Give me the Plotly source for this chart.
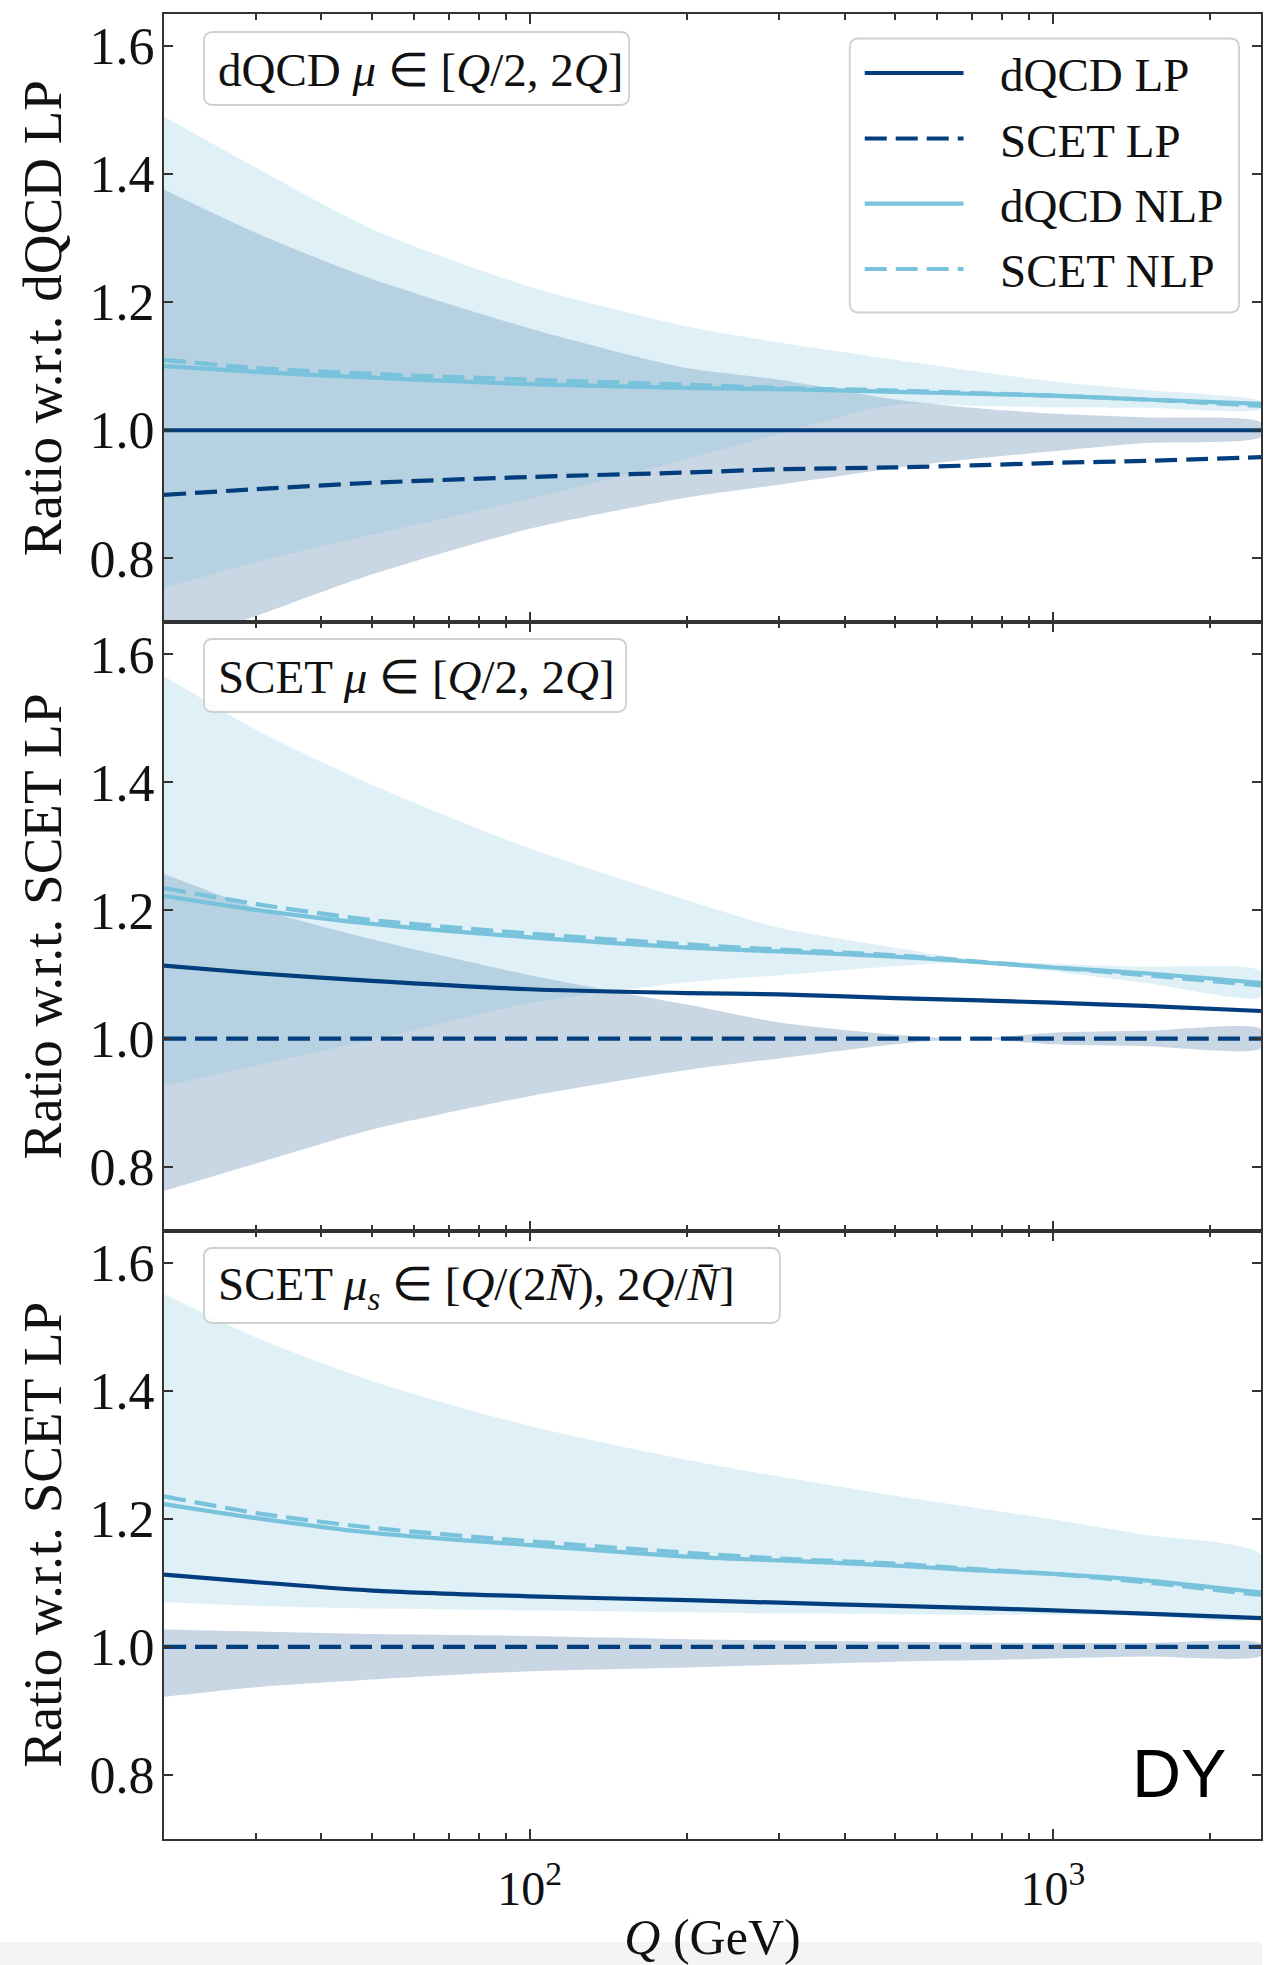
import numpy as np
import plotly.graph_objects as go

# ---------------- data ----------------
Q = [20, 30, 50, 100, 200, 300, 500, 700, 1000, 1500, 2500]

# Panel 1: ratio w.r.t. dQCD LP, mu in [Q/2, 2Q]
p1_dqcd_lp = [1.000, 1.000, 1.000, 1.000, 1.000, 1.000, 1.000, 1.000, 1.000, 1.000, 1.000]
p1_scet_lp = [0.899, 0.908, 0.918, 0.927, 0.934, 0.939, 0.942, 0.945, 0.949, 0.952, 0.958]
p1_dqcd_nlp = [1.100, 1.091, 1.082, 1.072, 1.066, 1.064, 1.060, 1.057, 1.054, 1.048, 1.041]
p1_scet_nlp = [1.110, 1.097, 1.088, 1.079, 1.071, 1.066, 1.062, 1.058, 1.054, 1.048, 1.038]
p1_lp_band_hi = [1.376, 1.308, 1.236, 1.159, 1.097, 1.079, 1.048, 1.035, 1.026, 1.020, 1.012]
p1_lp_band_lo = [0.660, 0.710, 0.775, 0.846, 0.895, 0.915, 0.941, 0.955, 0.967, 0.980, 0.990]
p1_nlp_band_hi = [1.490, 1.410, 1.314, 1.224, 1.162, 1.137, 1.110, 1.093, 1.076, 1.063, 1.045]
p1_nlp_band_lo = [0.754, 0.794, 0.837, 0.893, 0.955, 0.995, 1.040, 1.038, 1.036, 1.035, 1.033]

# Panel 2: ratio w.r.t. SCET LP, mu in [Q/2, 2Q]
p2_dqcd_lp = [1.114, 1.102, 1.090, 1.077, 1.071, 1.069, 1.063, 1.060, 1.056, 1.051, 1.043]
p2_scet_lp = [1.000, 1.000, 1.000, 1.000, 1.000, 1.000, 1.000, 1.000, 1.000, 1.000, 1.000]
p2_dqcd_nlp = [1.223, 1.201, 1.179, 1.158, 1.142, 1.136, 1.128, 1.120, 1.111, 1.102, 1.087]
p2_scet_nlp = [1.235, 1.210, 1.185, 1.164, 1.147, 1.139, 1.130, 1.121, 1.111, 1.099, 1.083]
p2_lp_band_hi = [1.257, 1.204, 1.155, 1.099, 1.053, 1.025, 1.006, 1.000, 1.009, 1.012, 1.015]
p2_lp_band_lo = [0.762, 0.805, 0.858, 0.910, 0.951, 0.969, 0.991, 1.000, 0.991, 0.988, 0.985]
p2_nlp_band_hi = [1.566, 1.482, 1.396, 1.297, 1.216, 1.173, 1.142, 1.124, 1.117, 1.112, 1.105]
p2_nlp_band_lo = [0.926, 0.958, 0.998, 1.055, 1.088, 1.099, 1.113, 1.119, 1.105, 1.087, 1.065]

# Panel 3: ratio w.r.t. SCET LP, mu_s in [Q/(2N), 2Q/N]
p3_dqcd_lp = [1.113, 1.101, 1.088, 1.079, 1.073, 1.069, 1.064, 1.061, 1.057, 1.052, 1.045]
p3_scet_lp = [1.000, 1.000, 1.000, 1.000, 1.000, 1.000, 1.000, 1.000, 1.000, 1.000, 1.000]
p3_dqcd_nlp = [1.223, 1.201, 1.178, 1.159, 1.141, 1.135, 1.127, 1.120, 1.114, 1.104, 1.085]
p3_scet_nlp = [1.235, 1.209, 1.186, 1.165, 1.147, 1.138, 1.130, 1.122, 1.114, 1.101, 1.081]
p3_lp_band_hi = [1.027, 1.024, 1.020, 1.017, 1.012, 1.010, 1.008, 1.007, 1.006, 1.006, 1.005]
p3_lp_band_lo = [0.922, 0.937, 0.949, 0.962, 0.968, 0.972, 0.977, 0.979, 0.982, 0.985, 0.986]
p3_nlp_band_hi = [1.551, 1.483, 1.415, 1.345, 1.292, 1.266, 1.236, 1.218, 1.199, 1.175, 1.144]
p3_nlp_band_lo = [1.070, 1.064, 1.060, 1.057, 1.054, 1.052, 1.051, 1.050, 1.050, 1.049, 1.048]

y_titles = ["Ratio w.r.t. dQCD LP", "Ratio w.r.t. SCET LP", "Ratio w.r.t. SCET LP"]
box_texts = [
    "dQCD <i>μ</i> ∈ [<i>Q</i>/2, 2<i>Q</i>]",
    "SCET <i>μ</i> ∈ [<i>Q</i>/2, 2<i>Q</i>]",
    "SCET <i>μ<sub>s</sub></i> ∈ [<i>Q</i>/(2<i>N\u0304</i>), 2<i>Q</i>/<i>N\u0304</i>]",
]
legend_names = ["dQCD LP", "SCET LP", "dQCD NLP", "SCET NLP"]
y_tickvals = [0.8, 1.0, 1.2, 1.4, 1.6]
y_ticktext = ["0.8", "1.0", "1.2", "1.4", "1.6"]
x_tickvals = [100, 1000]
x_ticktext = ["10<sup>2</sup>", "10<sup>3</sup>"]
x_minor = [30, 40, 50, 60, 70, 80, 90, 200, 300, 400, 500, 600, 700, 800, 900, 2000]

# ---------------- style ----------------
DARK = "#023e7d"
LIGHT = "#79c2dc"
DARK_FILL = "rgba(2,62,125,0.21)"
LIGHT_FILL = "rgba(121,194,220,0.24)"
SERIF = "Liberation Serif"
AXC = "#333333"
DASH = "22px,9px"
LW = 4.2

W, H = 1264, 1965
ML, MR, MT, MB = 164, 1, 14, 126
PW, PH = W - ML - MR, H - MT - MB
XR = [np.log10(20), np.log10(2500)]
YR = [0.7, 1.65]


def fx(px):
    return (px - ML) / PW


def fy(py):
    return (H - MB - py) / PH


def rrect(x0, y0, x1, y1, r):
    rx, ry = r / PW, r / PH
    X0, X1, Y0, Y1 = fx(x0), fx(x1), fy(y0), fy(y1)
    return (f"M{X0+rx},{Y0} L{X1-rx},{Y0} Q{X1},{Y0} {X1},{Y0-ry} "
            f"L{X1},{Y1+ry} Q{X1},{Y1} {X1-rx},{Y1} L{X0+rx},{Y1} "
            f"Q{X0},{Y1} {X0},{Y1+ry} L{X0},{Y0-ry} Q{X0},{Y0} {X0+rx},{Y0} Z")


panels = [
    (p1_dqcd_lp, p1_scet_lp, p1_dqcd_nlp, p1_scet_nlp, p1_lp_band_lo, p1_lp_band_hi, p1_nlp_band_lo, p1_nlp_band_hi),
    (p2_dqcd_lp, p2_scet_lp, p2_dqcd_nlp, p2_scet_nlp, p2_lp_band_lo, p2_lp_band_hi, p2_nlp_band_lo, p2_nlp_band_hi),
    (p3_dqcd_lp, p3_scet_lp, p3_dqcd_nlp, p3_scet_nlp, p3_lp_band_lo, p3_lp_band_hi, p3_nlp_band_lo, p3_nlp_band_hi),
]

fig = go.Figure()
for i, (dlp, slp, dnlp, snlp, lplo, lphi, nlo, nhi) in enumerate(panels):
    xa = "x" if i == 0 else f"x{i+1}"
    ya = "y" if i == 0 else f"y{i+1}"
    for lo, hi, fc in [(lplo, lphi, DARK_FILL), (nlo, nhi, LIGHT_FILL)]:
        fig.add_trace(go.Scatter(
            x=list(Q) + list(Q)[::-1], y=list(hi) + list(lo)[::-1],
            fill="toself", fillcolor=fc, mode="lines",
            line=dict(width=0, shape="spline", smoothing=0.7),
            hoverinfo="skip", showlegend=False, xaxis=xa, yaxis=ya))
    for yv, col, dash, nm in [(dlp, DARK, "solid", legend_names[0]),
                              (slp, DARK, DASH, legend_names[1]),
                              (dnlp, LIGHT, "solid", legend_names[2]),
                              (snlp, LIGHT, DASH, legend_names[3])]:
        fig.add_trace(go.Scatter(
            x=Q, y=yv, mode="lines", name=nm,
            line=dict(color=col, width=LW, dash=dash, shape="spline", smoothing=0.7),
            showlegend=False, xaxis=xa, yaxis=ya))
    # empty trace that carries the mirrored (top / right) tick axes
    fig.add_trace(go.Scatter(x=[], y=[], xaxis=f"x{i+4}", yaxis=f"y{i+4}",
                             showlegend=False, hoverinfo="skip"))

doms = [[2/3, 1.0], [1/3, 2/3], [0.0, 1/3]]
layout = dict(
    width=W, height=H, margin=dict(l=ML, r=MR, t=MT, b=MB),
    paper_bgcolor="white", plot_bgcolor="white", showlegend=False,
)
xtick_common = dict(type="log", range=XR, ticks="inside", ticklen=10, tickwidth=2, tickcolor=AXC,
                    tickmode="array", tickvals=x_tickvals, ticktext=x_ticktext,
                    minor=dict(ticks="inside", ticklen=6, tickwidth=1.6, tickcolor=AXC,
                               tickmode="array", tickvals=x_minor, showgrid=False),
                    showgrid=False, zeroline=False)
ytick_common = dict(range=YR, ticks="inside", ticklen=9, tickwidth=2, tickcolor=AXC,
                    tickmode="array", tickvals=y_tickvals, ticktext=y_ticktext,
                    showgrid=False, zeroline=False)
for i in range(3):
    xk = "xaxis" if i == 0 else f"xaxis{i+1}"
    yk = "yaxis" if i == 0 else f"yaxis{i+1}"
    ya = "y" if i == 0 else f"y{i+1}"
    xa = "x" if i == 0 else f"x{i+1}"
    layout[xk] = dict(
        **xtick_common, domain=[0, 1], anchor=ya,
        showline=True, linecolor=AXC, linewidth=2.2, mirror=True,
        showticklabels=(i == 2), ticklabelstandoff=6,
        tickfont=dict(family=SERIF, size=48, color="#111"),
    )
    if i == 2:
        layout[xk]["title"] = dict(text="<i>Q</i> (GeV)", font=dict(family=SERIF, size=50, color="#111"),
                                   standoff=12)
    layout[yk] = dict(
        **ytick_common, domain=doms[i], anchor=xa,
        showline=True, linecolor=AXC, linewidth=2.2, mirror=True,
        ticklabelstandoff=-3,
        tickfont=dict(family=SERIF, size=52, color="#111"),
        title=dict(text=y_titles[i], font=dict(family=SERIF, size=55, color="#111"), standoff=10),
    )
    layout[f"xaxis{i+4}"] = dict(**xtick_common, overlaying=xa, side="top", anchor=f"y{i+4}",
                                  showline=False, showticklabels=False)
    layout[f"yaxis{i+4}"] = dict(**ytick_common, overlaying=ya, side="right", anchor=f"x{i+4}",
                                  showline=False, showticklabels=False)
fig.update_layout(**layout)

shapes = []
annotations = []
boxes = [(204, 32, 630, 105, 70), (204, 639, 627, 712, 677), (204, 1248, 781, 1323, 1287)]
for (x0, y0, x1, y1, ty), txt in zip(boxes, box_texts):
    shapes.append(dict(type="path", path=rrect(x0, y0, x1, y1, 9), xref="paper", yref="paper",
                       line=dict(color="#cfcfcf", width=1.8), fillcolor="rgba(255,255,255,0.8)", layer="above"))
    annotations.append(dict(text=txt, x=fx(216), y=fy(ty), xref="paper", yref="paper",
                            xanchor="left", yanchor="middle", showarrow=False,
                            font=dict(family=SERIF, size=47, color="#111")))

# legend (drawn in panel 1)
shapes.append(dict(type="path", path=rrect(851, 38.5, 1241, 312.5, 9), xref="paper", yref="paper",
                   line=dict(color="#cfcfcf", width=1.8), fillcolor="rgba(255,255,255,0.8)", layer="above"))
rows = [73, 138.5, 203.7, 269]
styles = [(DARK, "solid"), (DARK, DASH), (LIGHT, "solid"), (LIGHT, DASH)]
for ry, (col, dash), nm in zip(rows, styles, legend_names):
    shapes.append(dict(type="line", x0=fx(866), x1=fx(965), y0=fy(ry), y1=fy(ry), xref="paper", yref="paper",
                       line=dict(color=col, width=LW, dash=dash), layer="above"))
    annotations.append(dict(text=nm, x=fx(1000), y=fy(ry + 2), xref="paper", yref="paper",
                            xanchor="left", yanchor="middle", showarrow=False,
                            font=dict(family=SERIF, size=47, color="#111")))

annotations.append(dict(text="DY", x=fx(1181), y=fy(1773), xref="paper", yref="paper",
                        xanchor="center", yanchor="middle", showarrow=False,
                        font=dict(family="Liberation Sans", size=68, color="black")))

shapes.append(dict(type="rect", x0=fx(0), x1=fx(W), y0=fy(H), y1=fy(1942), xref="paper", yref="paper",
                   line=dict(width=0), fillcolor="#f4f4f4", layer="below"))

fig.update_layout(shapes=shapes, annotations=annotations)
fig.write_html("out.html")
